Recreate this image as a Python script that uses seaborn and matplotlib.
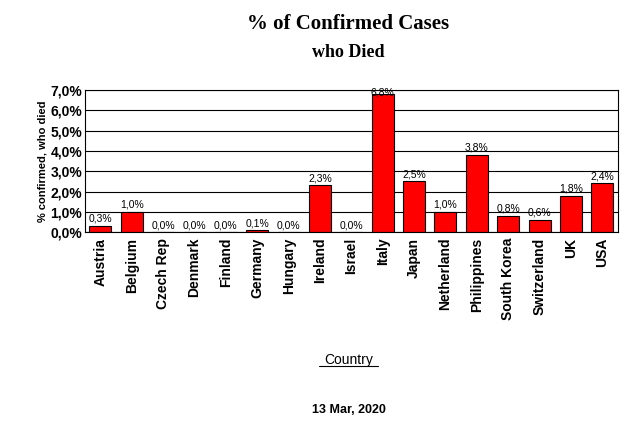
import matplotlib
matplotlib.use("Agg")
import matplotlib.pyplot as plt
import seaborn as sns
import pandas as pd
from matplotlib.ticker import FuncFormatter

countries = ["Austria", "Belgium", "Czech Rep", "Denmark", "Finland", "Germany",
             "Hungary", "Ireland", "Israel", "Italy", "Japan", "Netherland",
             "Philippines", "South Korea", "Switzerland", "UK", "USA"]
pct_died = [0.3, 1.0, 0.0, 0.0, 0.0, 0.1, 0.0, 2.3, 0.0, 6.8, 2.5, 1.0,
            3.8, 0.8, 0.6, 1.8, 2.4]

df = pd.DataFrame({"country": countries, "pct": pct_died})

sns.set_theme(style="white", rc={"text.color": "black", "xtick.color": "black",
                                 "ytick.color": "black", "axes.labelcolor": "black"})
fig = plt.figure(figsize=(6.28, 4.29), dpi=100)
ax = fig.add_axes([0.135, 0.459, 0.849, 0.331])
sns.barplot(data=df, x="country", y="pct", color="#ff0000", saturation=1,
            edgecolor="black", linewidth=0.8, width=0.7, ax=ax)

ax.set_ylim(0, 7)
ax.set_yticks([i for i in range(8)])
ax.yaxis.set_major_formatter(FuncFormatter(lambda v, _: f"{v:.1f}%".replace(".", ",")))
ax.grid(axis="y", color="black", linewidth=0.8)
ax.set_axisbelow(True)
for s in ax.spines.values():
    s.set_color("black")
    s.set_linewidth(0.8)

for i, v in enumerate(pct_died):
    y = min(v, 6.55) + 0.1
    ax.text(i, y, f"{v:.1f}%".replace(".", ","), ha="center", va="bottom",
            fontsize=7.5, family="Liberation Sans", zorder=5)

ax.tick_params(axis="x", labelrotation=90, labelsize=10, length=0, pad=4)
ax.tick_params(axis="y", labelsize=10, length=0, pad=2)
for lbl in ax.get_xticklabels() + ax.get_yticklabels():
    lbl.set_fontweight("bold")
    lbl.set_family("Liberation Sans")
ax.set_xlabel("")
ax.set_ylabel("% confirmed, who died", fontsize=8, fontweight="bold",
              family="Liberation Sans", labelpad=2)

fig.text(0.555, 0.945, "% of Confirmed Cases", ha="center", va="center",
         fontsize=15, fontweight="bold", family="Liberation Serif")
fig.text(0.555, 0.878, "who Died", ha="center", va="center",
         fontsize=13, fontweight="bold", family="Liberation Serif")
fig.text(0.555, 0.162, "Country", ha="center", va="center", fontsize=10,
         family="Liberation Sans")
fig.add_artist(plt.Line2D([0.508, 0.602], [0.146, 0.146], color="black", linewidth=0.8))
fig.text(0.555, 0.045, "13 Mar, 2020", ha="center", va="center", fontsize=9,
         fontweight="bold", family="Liberation Sans")

fig.savefig("out.png", dpi=100)
